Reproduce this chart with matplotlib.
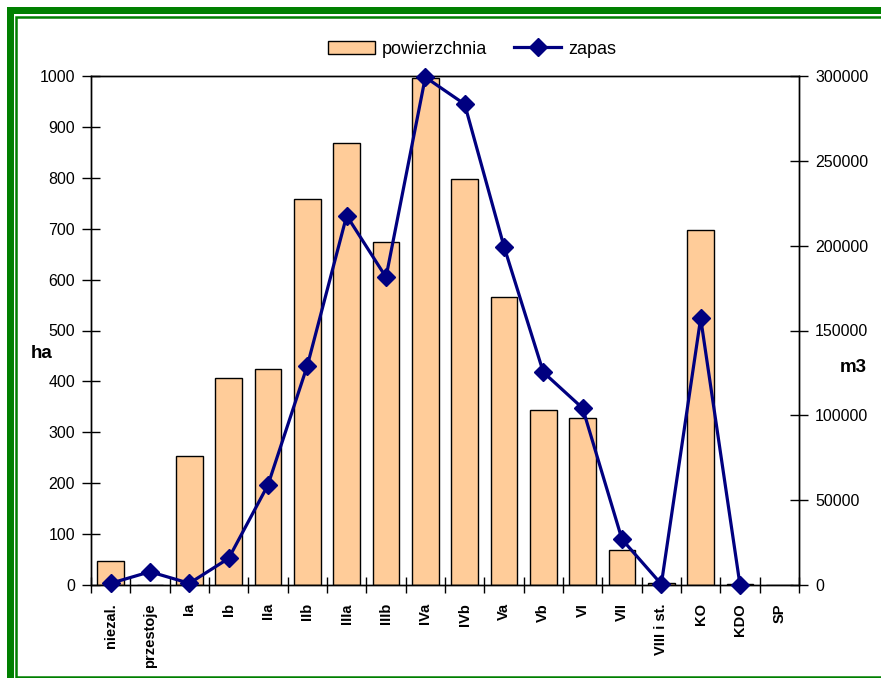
import matplotlib
matplotlib.use("Agg")
import matplotlib.pyplot as plt
import numpy as np
from matplotlib.lines import Line2D
from matplotlib.ticker import FixedLocator

categories = ["niezal.", "przestoje", "Ia", "Ib", "IIa", "IIb", "IIIa", "IIIb", "IVa",
              "IVb", "Va", "Vb", "VI", "VII", "VIII i st.", "KO", "KDO", "SP"]
powierzchnia = [48, 0, 254, 407, 425, 758, 868, 674, 997, 797, 566, 344, 329, 69, 3, 697, 2, 0]
zapas = [1000, 7800, 1000, 15700, 59000, 129300, 217700, 181400, 299300, 283400, 199500,
         125400, 104200, 26900, 500, 157200, 0, np.nan]
left_ticks = list(range(0, 1001, 100))
right_ticks = list(range(0, 300001, 50000))

W, H = 881, 678
fig = plt.figure(figsize=(W / 100, H / 100), dpi=100)

def fx(px):
    return px / W

def fy(py):
    return 1 - py / H

ax = fig.add_axes([fx(91), fy(585), fx(799) - fx(91), fy(76) - fy(585)])
ax2 = ax.twinx()

x = np.arange(len(categories))
bars = ax.bar(x, powierzchnia, width=0.67, color="#FFCC99", edgecolor="black", linewidth=1.0,
              label="powierzchnia", zorder=2)
line, = ax2.plot(x, zapas, color="#000080", linewidth=2.3, marker="D", markersize=9,
                 markeredgecolor="#000080", markerfacecolor="#000080", label="zapas",
                 clip_on=False, zorder=3)

ax.set_xlim(-0.5, len(categories) - 0.5)
ax.set_ylim(0, 1000)
ax2.set_ylim(0, 300000)

tick_font = dict(family=["Liberation Sans", "DejaVu Sans"], size=11.5)

ax.set_yticks(left_ticks)
ax.set_yticklabels([str(v) for v in left_ticks], fontdict=tick_font)
ax2.set_yticks(right_ticks)
ax2.set_yticklabels([str(v) for v in right_ticks], fontdict=tick_font)
ax.tick_params(axis="y", direction="inout", length=13, width=1.0, pad=5)
ax2.tick_params(axis="y", direction="inout", length=13, width=1.0, pad=5)

ax.set_xticks(x)
ax.set_xticklabels(categories, rotation=90, fontsize=10.5, fontweight="bold",
                   family=["Liberation Sans", "DejaVu Sans"], va="top", ha="center")
ax.tick_params(axis="x", which="major", length=0, pad=13)
ax.xaxis.set_minor_locator(FixedLocator(np.arange(-0.5, len(categories), 1.0)))
ax.tick_params(axis="x", which="minor", direction="inout", length=12, width=1.0)

for a in (ax, ax2):
    for s in a.spines.values():
        s.set_linewidth(1.0)
        s.set_color("black")

ax.set_zorder(1)
ax2.set_zorder(2)
ax.patch.set_visible(False)

fig.text(fx(42), fy(354), "ha", fontsize=13.5, fontweight="bold",
         family=["Liberation Sans", "DejaVu Sans"], ha="center", va="center")
fig.text(fx(853), fy(368), "m3", fontsize=13.5, fontweight="bold",
         family=["Liberation Sans", "DejaVu Sans"], ha="center", va="center")

leg = fig.legend([bars, line], ["powierzchnia", "zapas"], loc="center",
                 bbox_to_anchor=(fx(472), fy(49)), ncol=2, frameon=False,
                 prop=dict(family=["Liberation Sans", "DejaVu Sans"], size=13),
                 handlelength=2.6, handleheight=0.7, columnspacing=1.5, handletextpad=0.4)

# green double frame (cropped at right and bottom)
green = "#008000"
outer_lw = 7 * 72 / 100
inner_lw = 2.5 * 72 / 100
def pline(xs, ys, lw):
    fig.add_artist(Line2D([fx(v) for v in xs], [fy(v) for v in ys], color=green,
                          linewidth=lw, transform=fig.transFigure, solid_capstyle="butt",
                          solid_joinstyle="miter"))
pline([9.5, 9.5, 900], [700, 9.5, 9.5], outer_lw)
pline([900, 16, 16, 900], [676.8, 676.8, 16.5, 16.5], inner_lw)

fig.savefig("out.png", dpi=100)
